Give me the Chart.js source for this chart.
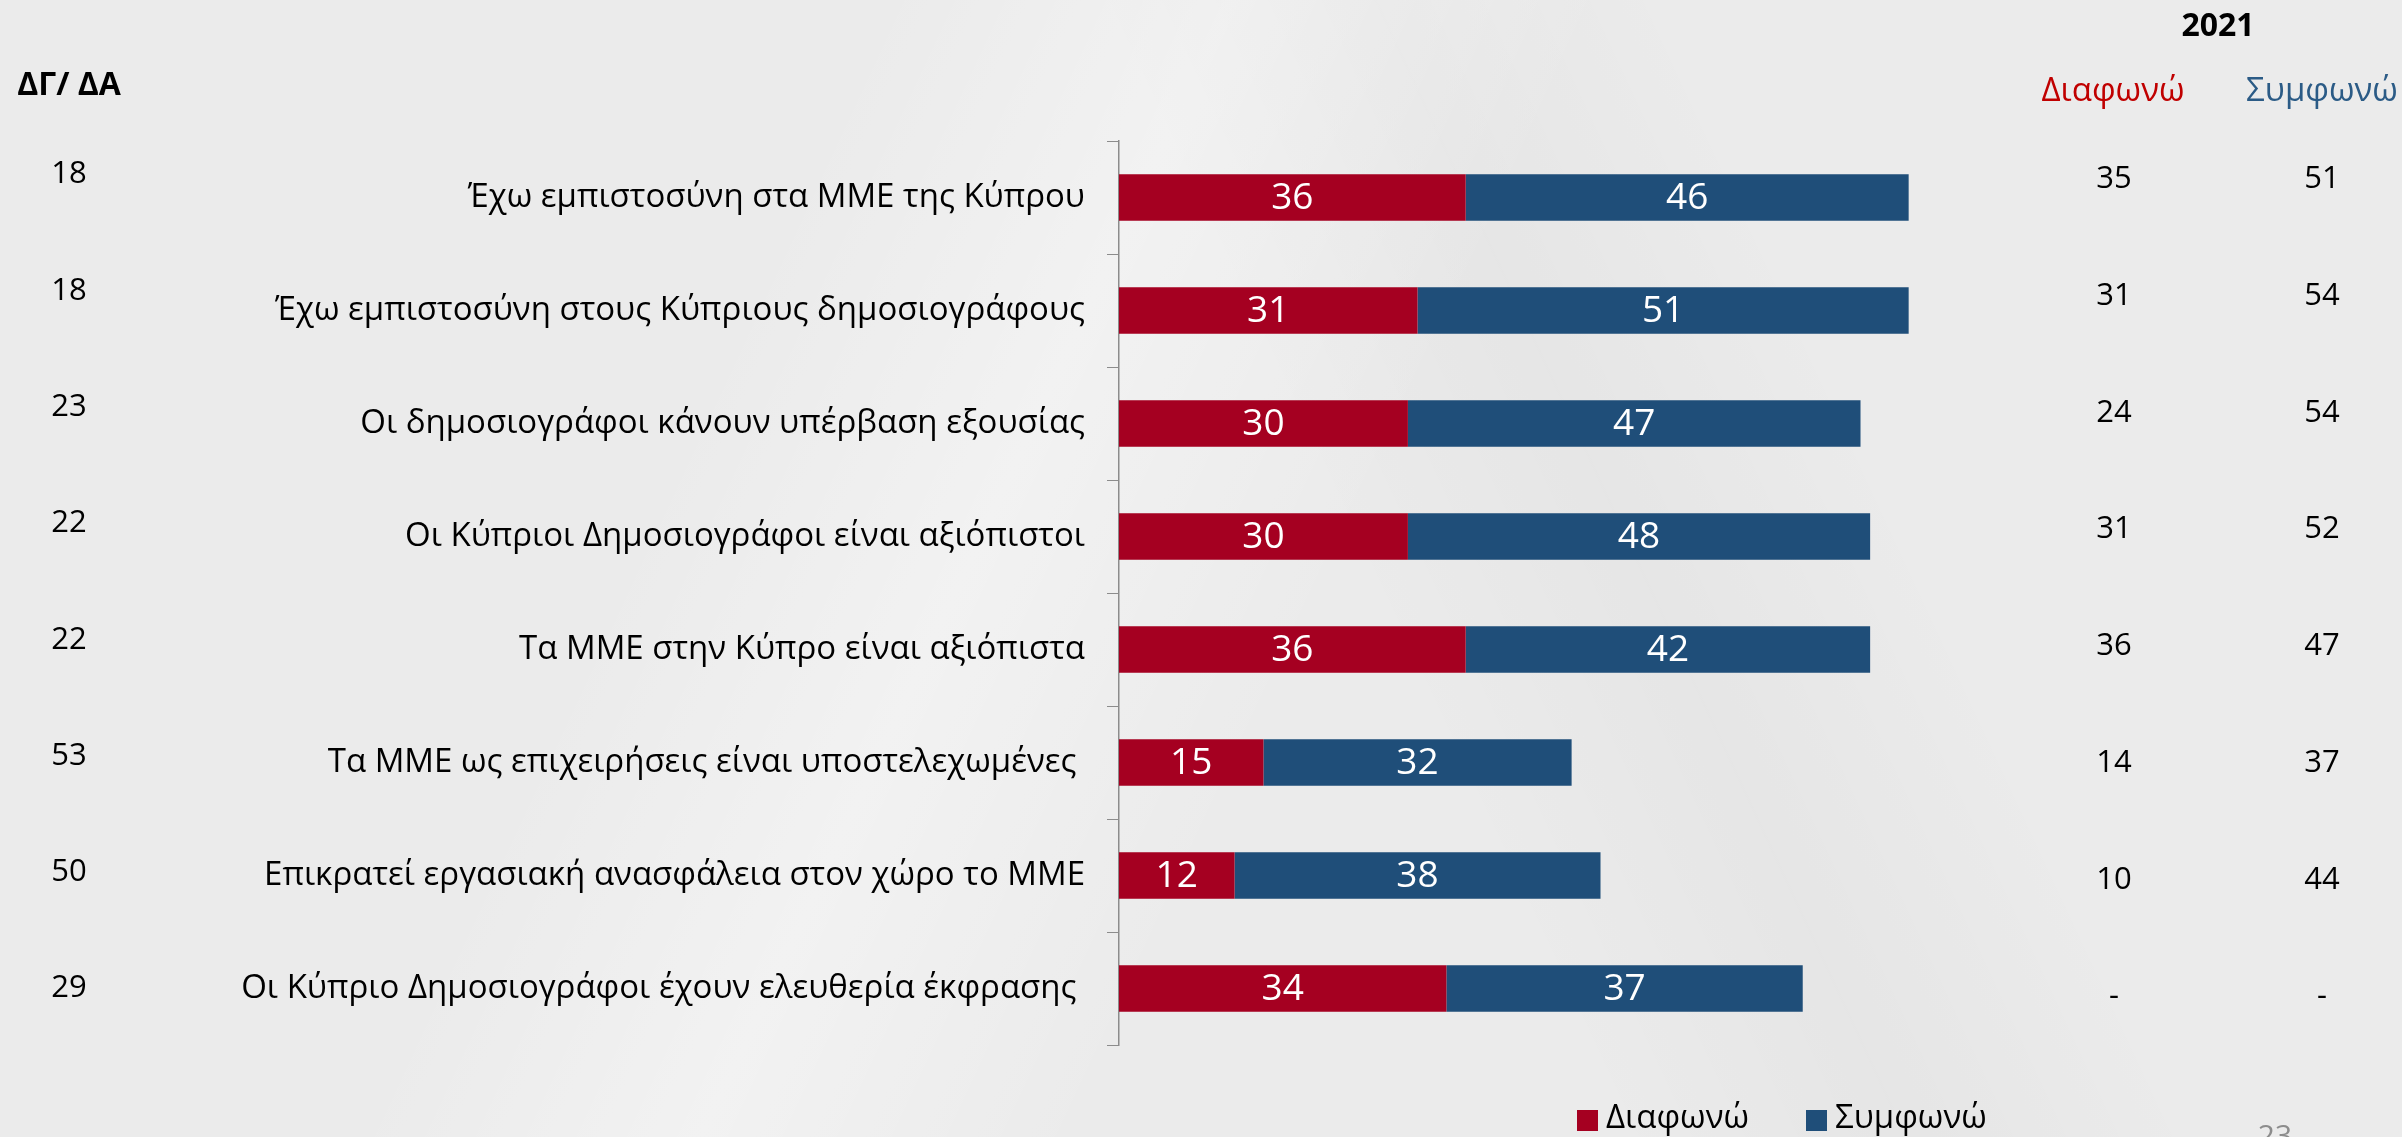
<!DOCTYPE html>
<html>
<head>
<meta charset="utf-8">
<script src="https://cdn.jsdelivr.net/npm/chart.js@4.4.1/dist/chart.umd.min.js"></script>
<style>
  html, body { margin: 0; padding: 0; }
  body {
    width: 2402px; height: 1137px; overflow: hidden;
    background:
      linear-gradient(115deg, rgba(255,255,255,0) 30%, rgba(255,255,255,0.35) 42%, rgba(255,255,255,0) 55%),
      linear-gradient(65deg, rgba(0,0,0,0) 55%, rgba(0,0,0,0.025) 65%, rgba(0,0,0,0) 75%),
      #ebebeb;
  }
  #wrap { position: relative; width: 2402px; height: 1137px; }
</style>
</head>
<body>
<div id="wrap"><canvas id="chart" width="2402" height="1137"></canvas></div>
<script>
// Data
const categories = [
  'Έχω εμπιστοσύνη στα ΜΜΕ της Κύπρου',
  'Έχω εμπιστοσύνη στους Κύπριους δημοσιογράφους',
  'Οι δημοσιογράφοι κάνουν υπέρβαση εξουσίας',
  'Οι Κύπριοι Δημοσιογράφοι είναι αξιόπιστοι',
  'Τα ΜΜΕ στην Κύπρο είναι αξιόπιστα',
  'Τα ΜΜΕ ως επιχειρήσεις είναι υποστελεχωμένες ',
  'Επικρατεί εργασιακή ανασφάλεια στον χώρο το ΜΜΕ',
  'Οι Κύπριο Δημοσιογράφοι έχουν ελευθερία έκφρασης '
];
const disagree = [36, 31, 30, 30, 36, 15, 12, 34];
const agree = [46, 51, 47, 48, 42, 32, 38, 37];
const dontKnow = [18, 18, 23, 22, 22, 53, 50, 29];
const disagree2021 = [35, 31, 24, 31, 36, 14, 10, null];
const agree2021 = [51, 54, 54, 52, 47, 37, 44, null];

const RED = '#a50021';
const BLUE = '#1f4e79';
const FONT = "'Open Sans', 'Noto Sans', sans-serif";

// white numbers inside the bar segments
const barLabels = {
  id: 'barLabels',
  afterDatasetsDraw(chart){
    const ctx = chart.ctx;
    ctx.save();
    ctx.fillStyle = '#fff';
    ctx.font = '37px ' + FONT;
    ctx.textAlign = 'center';
    ctx.textBaseline = 'middle';
    chart.data.datasets.forEach((ds, di) => {
      chart.getDatasetMeta(di).data.forEach((bar, i) => {
        ctx.fillText(ds.data[i], (bar.x + bar.base) / 2, bar.y + 1);
      });
    });
    ctx.restore();
  }
};

// side columns, headers, legend
const sideText = {
  id: 'sideText',
  afterDraw(chart){
    const ctx = chart.ctx;
    const y = chart.scales.y;
    ctx.save();
    ctx.textAlign = 'center';
    ctx.textBaseline = 'middle';

    ctx.fillStyle = '#000';
    ctx.font = 'bold 32px ' + FONT;
    ctx.fillText('ΔΓ/ ΔΑ', 69, 86);
    ctx.fillText('2021', 2218, 27);

    ctx.font = '33px ' + FONT;
    ctx.fillStyle = '#c00000';
    ctx.fillText('Διαφωνώ', 2113, 92);
    ctx.fillStyle = '#2b5b86';
    ctx.fillText('Συμφωνώ', 2322, 92);

    ctx.fillStyle = '#000';
    ctx.font = '31px ' + FONT;
    categories.forEach((c, i) => {
      const py = y.getPixelForValue(i);
      ctx.fillText(dontKnow[i], 69, py - 23 + i * 3.3);
      const ry = py - 18 + i * 3.7;
      ctx.fillText(disagree2021[i] == null ? '-' : disagree2021[i], 2114, ry);
      ctx.fillText(agree2021[i] == null ? '-' : agree2021[i], 2322, ry);
    });

    // legend
    ctx.textAlign = 'left';
    ctx.font = '33px ' + FONT;
    ctx.fillStyle = RED;
    ctx.fillRect(1577, 1110, 21, 21);
    ctx.fillStyle = '#000';
    ctx.fillText('Διαφωνώ', 1606, 1119);
    ctx.fillStyle = BLUE;
    ctx.fillRect(1806, 1110, 21, 21);
    ctx.fillStyle = '#000';
    ctx.fillText('Συμφωνώ', 1835, 1119);

    // page number
    ctx.fillStyle = '#8c8c8c';
    ctx.font = '30px ' + FONT;
    ctx.textAlign = 'center';
    ctx.fillText('23', 2275, 1137);
    ctx.restore();
  }
};

new Chart(document.getElementById('chart'), {
  type: 'bar',
  data: {
    labels: categories,
    datasets: [
      {label: 'Διαφωνώ', data: disagree, backgroundColor: RED},
      {label: 'Συμφωνώ', data: agree, backgroundColor: BLUE}
    ]
  },
  options: {
    indexAxis: 'y',
    responsive: false,
    animation: false,
    layout: {padding: {top: 141, bottom: 92, left: 0, right: 320}},
    datasets: {bar: {categoryPercentage: 1, barPercentage: 0.41}},
    plugins: {legend: {display: false}, tooltip: {enabled: false}},
    scales: {
      x: {stacked: true, min: 0, max: 100, display: false},
      y: {
        stacked: true,
        afterFit(scale){ scale.width = 1119; },
        grid: {drawOnChartArea: false, drawTicks: true, tickLength: 12, color: '#8c8c8c'},
        border: {color: '#8c8c8c', width: 1.5},
        ticks: {color: '#000', padding: 22, font: {family: FONT, size: 33}}
      }
    }
  },
  plugins: [barLabels, sideText]
});
</script>
</body>
</html>
